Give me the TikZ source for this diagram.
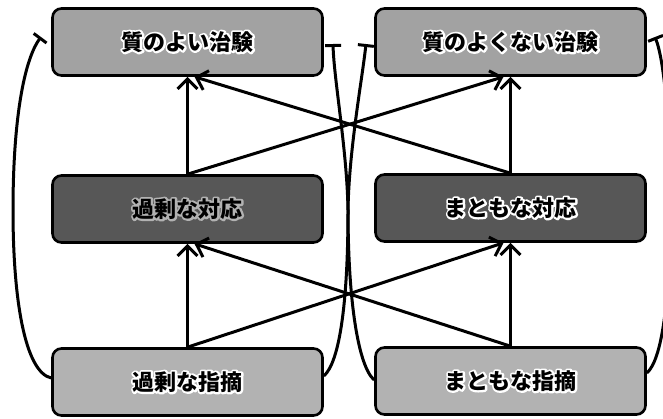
\documentclass[tikz,border=0pt]{standalone}
\usepackage{fontspec}
\newfontfamily\jp{Noto Sans CJK JP}
\usetikzlibrary{arrows.meta}
\newcommand\halo[2]{\leavevmode\rlap{\special{pdf:code 1 Tr 4 w #1 RG 1 j}#2\special{pdf:code 0 Tr 0 0 0 RG}}#2}
\definecolor{topgray}{HTML}{A2A2A2}
\definecolor{midgray}{HTML}{575757}
\definecolor{botgray}{HTML}{B2B2B2}
\tikzset{
 box/.style={draw=black, line width=2.6pt, rounded corners=9pt,
   minimum width=270pt, minimum height=67pt, inner sep=0pt,
   font=\jp\bfseries\fontsize{22pt}{24pt}\selectfont},
 topbox/.style={box, fill=topgray},
 midbox/.style={box, fill=midgray},
 botbox/.style={box, fill=botgray},
 conn/.style={line width=3pt, -{Straight Barb[length=10pt,width=20pt,line width=3pt]}},
 loopc/.style={line width=3pt, -{Bar[width=16pt,line width=3pt]}},
}
\begin{document}
\begin{tikzpicture}[x=1pt,y=-1pt]
\useasboundingbox (0,0) rectangle (663,418);
\node[topbox] (tl) at (187.5,42) {\halo{1 1 1}{質のよい治験}};
\node[topbox] (tr) at (510.5,42) {\halo{1 1 1}{質のよくない治験}};
\node[midbox] (ml) at (187.5,209) {\halo{0.7 0.7 0.7}{過剰な対応}};
\node[midbox] (mr) at (510.5,208) {\halo{1 1 1}{まともな対応}};
\node[botbox] (bl) at (187.5,382) {\halo{1 1 1}{過剰な指摘}};
\node[botbox] (br) at (510.5,381) {\halo{1 1 1}{まともな指摘}};
% straight arrows
\draw[conn] (bl.north) -- (ml.south);
\draw[conn] (ml.north) -- (tl.south);
\draw[conn] (br.north) -- (mr.south);
\draw[conn] (mr.north) -- (tr.south);
\draw[conn] (bl.north) -- ([xshift=-7pt]mr.south);
\draw[conn] (br.north) -- ([xshift=7pt]ml.south);
\draw[conn] (ml.north) -- ([xshift=-7pt]tr.south);
\draw[conn] (mr.north) -- ([xshift=7pt]tl.south);
% curved connectors
\coordinate (e1) at (41,37);
\coordinate (e2) at (366,44);
\coordinate (e3) at (333,44);
\coordinate (e4) at (655,37);
\draw[loopc] ([yshift=4pt]bl.west) .. controls (25,372) and (13,300) .. (13,210)
   .. controls (13,120) and (24,60) .. (e1);
\draw[loopc] ([yshift=6pt]bl.east) .. controls (340,362) and (348,300) .. (348,210)
   .. controls (349,150) and (362,80) .. (e2);
\draw[loopc] ([yshift=1pt]br.west) .. controls (358,366) and (348,300) .. (348,210)
   .. controls (347,150) and (334,80) .. (e3);
\draw[loopc] ([yshift=8pt]br.east) .. controls (662,360) and (670,300) .. (670,210)
   .. controls (670,120) and (664,60) .. (e4);
\end{tikzpicture}
\end{document}
